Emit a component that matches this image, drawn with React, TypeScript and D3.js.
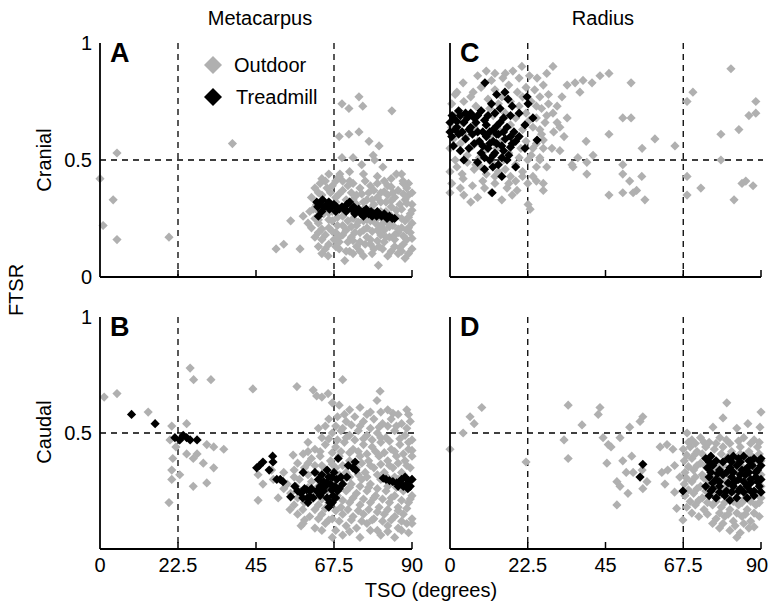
import React from 'react';
import * as d3 from 'd3';

type P = [number, number];

const xTicks = [0, 22.5, 45, 67.5, 90];
const xTickLabels = ['0', '22.5', '45', '67.5', '90'];
const dashX = [22.5, 67.5];
const dashY = 0.5;
const columnTitles = ['Metacarpus', 'Radius'];
const rowTitles = ['Cranial', 'Caudal'];
const legendLabels = ['Outdoor', 'Treadmill'];

// Panel A: Metacarpus, cranial
const metaCranialOutdoor: P[] = [
  [0,0.42],[4.9,0.53],[3.8,0.33],[0.9,0.22],[4.9,0.16],[19.9,0.17],[38.2,0.57],[50.8,0.12],[53,0.14],[57.7,0.12],[55,0.24],[58.6,0.26],[60,0.23],
  [74.7,0.77],[69.8,0.74],[71.8,0.72],[75.8,0.73],[84.2,0.71],[69,0.6],[71.8,0.61],[74.7,0.62],[77.6,0.58],[80.5,0.56],[69.8,0.51],[73,0.51],
  [75.5,0.48],[78.8,0.52],[79.2,0.5],[81.6,0.47],[69.2,0.44],[72,0.41],
  [64,0.42],[66,0.44],[69,0.43],[72,0.45],[76,0.44],[80,0.43],[84,0.42],[87,0.44],[89,0.4],
  [62,0.38],[63.5,0.4],[67,0.39],[70,0.37],[73,0.4],[75,0.38],[78,0.39],[81,0.36],[83,0.39],[86,0.37],[88.5,0.38],
  [61,0.34],[64,0.35],[68,0.34],[71,0.33],[74,0.35],[77,0.33],[80,0.34],[82.5,0.32],[85,0.34],[88,0.33],[90,0.31],
  [61.5,0.29],[65,0.3],[69,0.29],[72,0.3],[76,0.29],[79,0.31],[81,0.28],[84,0.3],[87,0.29],[89.5,0.27],
  [62,0.25],[64.5,0.27],[67,0.24],[70,0.26],[73,0.25],[75.5,0.27],[78,0.24],[80.5,0.26],[83,0.23],[85.5,0.26],[88,0.24],[90,0.23],
  [61,0.21],[63,0.23],[66,0.21],[68.5,0.22],[71,0.2],[74,0.22],[77,0.21],[79.5,0.23],[82,0.2],[84.5,0.22],[87,0.21],[89.5,0.19],
  [62,0.17],[65,0.18],[67.5,0.16],[70,0.18],[72.5,0.17],[75,0.19],[78,0.16],[81,0.18],[83.5,0.17],[86,0.19],[88.5,0.16],
  [63,0.13],[66,0.14],[69,0.12],[71.5,0.15],[74,0.13],[76.5,0.14],[79,0.12],[82,0.15],[85,0.13],[87.5,0.14],[90,0.12],
  [64,0.1],[65.8,0.09],[70.6,0.07],[73,0.1],[76,0.09],[78.5,0.1],[80.3,0.05],[83,0.09],[86,0.1],[88,0.08],
  [66,0.32],[70,0.41],[74,0.31],[77.5,0.36],[79,0.27],[82,0.41],[85,0.18],[86.5,0.31],[73.5,0.19],[69,0.15],[87,0.11],[71,0.28],
  [75,0.15],[80,0.2],[84,0.26],[89,0.35],[65.5,0.38],[62.5,0.31],[67,0.28],[76,0.24],[81.5,0.12],[89,0.21],[78,0.29],[72,0.11],[83,0.35],
  [87.4,0.41],[85.5,0.44],[63,0.19],[68,0.19],[60.5,0.28],
  [65,0.41],[68,0.41],[71.5,0.39],[76.5,0.41],[80,0.4],[84,0.385],[87.5,0.4],
  [63,0.36],[66.5,0.36],[69,0.355],[72.5,0.36],[75.5,0.355],[79,0.37],[82,0.365],[84.5,0.36],[87.5,0.355],[90,0.36],
  [64.5,0.325],[68,0.32],[73,0.33],[76,0.32],[78.5,0.33],[81,0.32],[84,0.325],[88.5,0.315],
  [63,0.28],[66,0.275],[70.5,0.28],[74,0.275],[77,0.28],[82.5,0.28],[85.5,0.285],[90,0.285],
  [63,0.245],[66,0.245],[68.5,0.255],[71.5,0.24],[74.5,0.235],[77,0.245],[79.5,0.245],[82,0.24],[84.5,0.245],[87,0.25],[89,0.255],
  [64,0.205],[67,0.195],[70,0.22],[72.5,0.215],[76,0.2],[78.5,0.195],[81,0.22],[83.5,0.215],[86,0.205],[88.5,0.2],
  [64,0.16],[69,0.17],[73,0.155],[77,0.17],[80,0.155],[82.5,0.17],[85,0.16],[87.5,0.175],[90,0.165],
  [65,0.12],[68,0.13],[71,0.11],[75,0.11],[78,0.14],[80.5,0.13],[84,0.11],[86.5,0.125],[89,0.1]
];
const metaCranialTreadmill: P[] = [
  [62.5,0.32],[62.8,0.3],[63,0.26],[63.5,0.31],[64.2,0.33],[64.8,0.3],[65.5,0.31],[66.2,0.29],[66.8,0.3],[67.5,0.31],[68.2,0.3],
  [69,0.29],[69.8,0.3],[70.5,0.29],[71.2,0.31],[72,0.32],[72.6,0.29],[73.2,0.3],[74,0.28],[74.6,0.29],[75.3,0.27],[76,0.28],
  [76.8,0.29],[77.5,0.27],[78.2,0.28],[79,0.27],[79.8,0.26],[80.5,0.27],[81.2,0.26],[82,0.27],[82.8,0.25],[83.5,0.26],[84.3,0.25],
  [85,0.25],[64,0.28],[66,0.32],[68,0.28],[71,0.28],[73.5,0.27],[76,0.26],[78.5,0.26],[80,0.28]
];

// Panel B: Metacarpus, caudal
const metaCaudalOutdoor: P[] = [
  [1.2,0.655],[4.9,0.67],[13.9,0.59],[26,0.78],[27,0.73],[32,0.73],[44.1,0.69],[20.7,0.53],[20.2,0.47],[21.9,0.44],[25,0.54],
  [30.8,0.45],[32.8,0.44],[35.7,0.43],[25,0.41],[26.9,0.39],[29.8,0.37],[32.8,0.35],[20.7,0.34],[23,0.32],[20.7,0.3],[26.9,0.27],
  [30.8,0.285],[19.9,0.2],[21,0.39],[28,0.41],
  [45.6,0.32],[47,0.28],[50,0.3],[51.4,0.22],[53,0.26],[54.8,0.17],[58.6,0.11],[49.5,0.34],
  [56.8,0.7],[61.5,0.685],[62.5,0.66],[64,0.655],[65.8,0.67],[70,0.73],[80.8,0.68],[79.9,0.64],[75,0.61],[72,0.6],[69,0.62],[78,0.59],
  [83,0.6],[86,0.58],[88.5,0.6],[67,0.63],
  [66,0.56],[68.5,0.57],[71,0.55],[73.5,0.57],[76,0.55],[79,0.56],[81.5,0.54],[84,0.56],[87,0.54],[89.5,0.55],[63,0.52],
  [60,0.46],[64,0.48],[67,0.5],[69.5,0.51],[72,0.49],[74.5,0.51],[77,0.49],[80,0.5],[82.5,0.48],[85,0.51],[88,0.49],[90,0.47],
  [55.7,0.405],[58.6,0.41],[62,0.43],[65,0.45],[68,0.44],[70.5,0.46],[73,0.43],[76,0.45],[78.5,0.44],[81,0.46],[84,0.43],[86.5,0.45],[89,0.43],
  [57,0.37],[61,0.39],[63.5,0.4],[66.5,0.38],[69,0.4],[72,0.38],[75,0.4],[77.5,0.38],[80.5,0.4],[83,0.38],[85.5,0.4],[88,0.38],[90,0.4],
  [53,0.33],[56,0.34],[59,0.35],[62,0.36],[65,0.34],[68,0.35],[71,0.33],[74,0.35],[76.5,0.33],[79,0.35],[82,0.33],[84.5,0.35],[87,0.33],[89.5,0.35],
  [54,0.28],[57.5,0.3],[61,0.29],[64,0.3],[67,0.29],[70,0.3],[72.5,0.28],[75.5,0.3],[78,0.28],[81,0.3],[83.5,0.28],[86,0.3],[88.5,0.27],[90,0.3],
  [55,0.24],[58,0.25],[62,0.24],[65.5,0.25],[68.5,0.23],[71,0.25],[74,0.24],[77,0.25],[79.5,0.23],[82.5,0.25],[85,0.23],[87.5,0.25],[90,0.23],
  [45.6,0.21],[56,0.19],[59,0.2],[63,0.19],[66,0.2],[69.5,0.18],[72,0.2],[75,0.19],[78,0.2],[80.5,0.18],[83.5,0.2],[86,0.18],[89,0.2],
  [57,0.15],[60.5,0.14],[64,0.15],[67,0.13],[70,0.15],[73,0.14],[76,0.15],[79,0.13],[82,0.15],[85,0.14],[87.5,0.15],[90,0.13],
  [58,0.1],[62,0.09],[65,0.11],[68,0.08],[71,0.1],[74,0.09],[77,0.11],[80,0.08],[83,0.1],[86,0.09],[88.5,0.11],
  [67,0.05],[70,0.06],[75,0.05],[81,0.06],[85,0.05],[89,0.07],
  [70.5,0.58],[77,0.58],[81,0.59],[84.5,0.585],[89,0.58],
  [65,0.53],[68,0.53],[70,0.52],[72.5,0.535],[75,0.53],[78,0.52],[80.5,0.525],[83,0.53],[85.5,0.53],[88.5,0.52],
  [66,0.475],[68.5,0.47],[71,0.48],[73.5,0.47],[76,0.475],[78.5,0.47],[81,0.48],[83.5,0.465],[86.5,0.475],[89,0.46],
  [60,0.42],[63.5,0.42],[67,0.415],[69.5,0.42],[72,0.415],[74.5,0.42],[77,0.41],[79.5,0.42],[82,0.415],[85,0.42],[87.5,0.41],[90,0.425],
  [60,0.37],[64,0.36],[67,0.365],[70,0.36],[73,0.365],[75.5,0.37],[78,0.36],[81,0.365],[83.5,0.36],[86,0.37],[88.5,0.36],
  [56,0.31],[60,0.32],[63,0.32],[66,0.315],[69,0.32],[72,0.31],[74.5,0.32],[77,0.31],[80,0.32],[82.5,0.315],[85,0.31],[87.5,0.32],
  [56.5,0.27],[60,0.265],[63,0.27],[66,0.265],[69,0.26],[72,0.265],[75,0.27],[77.5,0.265],[80,0.26],[83,0.27],[85.5,0.265],[88,0.26],
  [57,0.22],[60.5,0.22],[64,0.215],[67,0.22],[70,0.21],[73,0.22],[76,0.215],[79,0.22],[81.5,0.215],[84,0.22],[87,0.21],[89.5,0.215],
  [58.5,0.17],[62,0.17],[65,0.175],[68,0.165],[71.5,0.17],[74.5,0.165],[77.5,0.17],[80,0.16],[83,0.17],[86,0.165],[88.5,0.175],
  [59,0.125],[63,0.13],[66,0.125],[69,0.12],[72.5,0.125],[75.5,0.12],[78.5,0.125],[81.5,0.12],[84,0.125],[87,0.12],[90,0.11],
  [64,0.08],[72,0.075],[78,0.08],[83,0.075],[87,0.08]
];
const metaCaudalTreadmill: P[] = [
  [9.1,0.58],[15.9,0.54],[21.6,0.48],[24,0.49],[26,0.47],[28,0.47],[23,0.47],[25,0.48],
  [45.2,0.35],[46,0.36],[47,0.375],[49.8,0.4],[49.9,0.375],[48.8,0.34],[51,0.3],[52,0.3],[52.8,0.29],[55,0.225],[56.2,0.27],[57,0.25],
  [58,0.24],[58.6,0.33],[59.6,0.255],[60.6,0.225],[59.8,0.22],[61,0.26],[62,0.33],[63,0.3],[64,0.32],[64.5,0.29],[65.4,0.285],[66,0.31],
  [66.8,0.255],[66.3,0.2],[67.2,0.23],[67.8,0.27],[68.3,0.3],[68.7,0.39],[69,0.26],[70,0.28],[71.2,0.31],[71.6,0.36],[73,0.35],
  [73.6,0.375],[73.8,0.34],[65.5,0.34],[63.5,0.27],[62.5,0.25],
  [64.5,0.25],[65.5,0.22],[66.5,0.28],[67.5,0.33],[68.5,0.25],[69.5,0.31],[67,0.31],[65,0.27],[63.5,0.23],[61.5,0.22],[60.5,0.25],
  [58.5,0.22],[59,0.26],[60,0.2],[66,0.18],[67,0.2],[68,0.22],
  [81.7,0.305],[82.5,0.3],[83.5,0.295],[84.5,0.29],[85.6,0.285],[86.5,0.29],[87,0.3],[87.5,0.27],[88,0.31],[88.5,0.28],[89,0.295],
  [89.5,0.27],[90,0.3],[86,0.27],[88.8,0.26]
];

// Panel C: Radius, cranial
const radCranialOutdoor: P[] = [
  [81.3,0.89],[88.5,0.75],[86.5,0.69],[88.5,0.7],[83.6,0.63],[78.4,0.61],[78.4,0.5],[70.3,0.79],[68.6,0.75],[68.6,0.43],[72.6,0.38],
  [68.6,0.35],[82.2,0.33],[84.5,0.4],[87.7,0.39],[85.6,0.41],[52.4,0.83],[46,0.87],[43.4,0.86],[41.1,0.83],[38.5,0.84],[36.2,0.83],
  [33.9,0.82],[50,0.68],[52.4,0.68],[46,0.61],[59.3,0.59],[65.1,0.56],[55.6,0.55],[39.4,0.58],[41.4,0.52],[37,0.51],[35.3,0.48],
  [39.6,0.44],[50,0.48],[50,0.44],[52,0.41],[55.5,0.43],[54,0.37],[53,0.36],[46,0.35],[50,0.36],[56.4,0.33],[27,0.4],[23.2,0.29],
  [31.8,0.64],[33.9,0.68],[31,0.73],[32.4,0.77],[29.8,0.7],[27,0.585],[29.5,0.55],[31.8,0.54],[26,0.51],[28,0.47],[25,0.41],
  [27,0.37],[35.6,0.47],[39.6,0.49],[31,0.66],[30,0.62],[33,0.6],[28.5,0.78],[37.6,0.79],
  [3.8,0.83],[8,0.86],[12,0.84],[15.3,0.85],[18.2,0.88],[20.8,0.9],[23,0.86],[25.2,0.85],[28,0.87],[29.8,0.9],[10.5,0.88],
  [1.5,0.78],[6.7,0.79],[9,0.81],[13,0.8],[17,0.82],[19.5,0.79],[22,0.81],[24.5,0.8],[27,0.82],[26,0.77],
  [0.5,0.74],[4,0.75],[7.5,0.73],[11,0.76],[14,0.74],[17.5,0.75],[20,0.73],[23.5,0.75],[26.5,0.72],[28.5,0.74],
  [2,0.7],[5.5,0.69],[9,0.71],[12.5,0.69],[16,0.7],[19,0.68],[22,0.7],[25,0.68],[27.5,0.66],
  [0.5,0.64],[3.5,0.66],[7,0.64],[10.5,0.65],[14,0.63],[17.5,0.65],[21,0.63],[24,0.64],[26.5,0.61],
  [1,0.59],[4.5,0.6],[8,0.58],[11.5,0.6],[15,0.58],[18.5,0.6],[22,0.58],[25,0.57],[27,0.55],
  [0,0.55],[3,0.54],[6.5,0.56],[10,0.54],[13.5,0.55],[17,0.53],[20.5,0.55],[23.5,0.52],[26,0.5],
  [1.5,0.5],[5,0.49],[8.5,0.51],[12,0.49],[15.5,0.5],[19,0.48],[22.5,0.5],[25,0.47],
  [0,0.45],[3.5,0.44],[7,0.46],[10.5,0.44],[14,0.45],[17.5,0.43],[21,0.45],[24,0.43],
  [0.5,0.4],[3.8,0.42],[6.5,0.39],[9.5,0.41],[13,0.4],[16.5,0.38],[19.4,0.37],[22.5,0.4],
  [0,0.36],[4,0.35],[8,0.34],[12,0.36],[15,0.33],[18,0.35],[22.6,0.31],[6,0.32],
  [2,0.47],[5,0.52],[7.5,0.48],[3,0.57],[9,0.47],[13,0.43],[16,0.46],[19,0.41],[20,0.51],[24,0.55],[26,0.63],[23,0.67],
  [21,0.77],[15,0.77],[11.5,0.72],[6,0.77],[25,0.73],[28,0.69],[3,0.38],[10,0.38],[17,0.4],[21,0.43],[2,0.79],[20,0.85],
  [16,0.87],[13,0.87]
];
const radCranialTreadmill: P[] = [
  [10.1,0.83],[15.9,0.79],[16.8,0.76],[22.3,0.77],[13.5,0.78],
  [12,0.74],[14.5,0.72],[18,0.73],[22.6,0.74],[20,0.7],
  [0.6,0.69],[2.5,0.71],[4.5,0.7],[7,0.68],[9,0.71],[11,0.69],[13,0.7],[15.5,0.68],[17.5,0.69],[24,0.68],
  [0,0.66],[2,0.64],[4,0.66],[6,0.64],[8,0.62],[10.5,0.65],[12.5,0.63],[14.5,0.66],[16.5,0.64],[18.5,0.62],[21.7,0.65],
  [0.5,0.6],[2.5,0.61],[4.5,0.59],[6.5,0.61],[8.5,0.58],[10.5,0.6],[12.5,0.58],[14,0.61],[16,0.59],[18,0.57],[20,0.6],
  [1,0.56],[3,0.54],[5.5,0.55],[9,0.53],[11,0.55],[13,0.53],[15,0.56],[17,0.52],[21.7,0.55],[25.2,0.585],
  [4,0.5],[8,0.49],[11.5,0.5],[14,0.48],[16.5,0.5],[19,0.47],
  [12.4,0.47],[15,0.43],[10,0.46],[12.2,0.36],
  [1,0.68],[3,0.69],[5,0.68],[1.5,0.63],[3.5,0.62],[5.5,0.63],[7.5,0.66],[0,0.62],[2,0.665],[6,0.7],[8,0.69],
  [7,0.57],[9.5,0.56],[11.5,0.57],[13.5,0.57],[15.5,0.54],[17.5,0.555],[9.5,0.62],[11.5,0.62],[13.5,0.61],[15.5,0.62],
  [17.5,0.6],[19,0.58],[10,0.51],[12.5,0.52],[15,0.51],[13.5,0.645],[10,0.67]
];

// Panel D: Radius, caudal
const radCaudalOutdoor: P[] = [
  [0,0.43],[3.8,0.5],[5.8,0.57],[7,0.54],[9.2,0.61],[22,0.375],[34.2,0.62],[33,0.47],[34.2,0.39],[38.2,0.535],[43.4,0.61],[42.9,0.58],
  [44.3,0.48],[45.8,0.45],[46.6,0.44],[45.4,0.37],[49.2,0.48],[52,0.525],[55.8,0.57],[55,0.55],[50,0.38],[52.6,0.4],[51,0.33],[53,0.33],
  [55.6,0.34],[57,0.29],[55.8,0.26],[48.3,0.29],[49.2,0.27],[51.5,0.24],[48.3,0.19],[60.8,0.44],[62.8,0.45],[61.3,0.33],[63,0.34],
  [65,0.36],[65,0.245],[65.6,0.175],[62.2,0.28],[64.5,0.43],[66.5,0.31],[80.1,0.63],[79,0.565],[90,0.59],
  [68.6,0.5],[70,0.47],[72.5,0.48],[75,0.46],[76.1,0.525],[78.1,0.48],[80,0.47],[83,0.52],[85,0.48],[86.2,0.54],[88,0.47],[89.7,0.525],
  [67.5,0.43],[69.5,0.44],[71.5,0.42],[74,0.44],[76.5,0.43],[79,0.44],[81.5,0.42],[84,0.44],[86.5,0.42],[89,0.44],
  [67.8,0.38],[70,0.39],[72.5,0.37],[75,0.39],[77.5,0.37],[80,0.39],[82.5,0.38],[85,0.39],[87.5,0.37],[90,0.38],
  [68,0.33],[70.5,0.34],[73,0.32],[75.5,0.34],[78,0.33],[80.5,0.32],[83,0.34],[85.5,0.32],[88,0.34],[90,0.32],
  [67.8,0.28],[70,0.29],[72.5,0.27],[75,0.29],[77.5,0.28],[80,0.27],[82.5,0.29],[85,0.27],[87.5,0.29],[90,0.27],
  [68,0.23],[70.5,0.24],[73,0.22],[75.5,0.24],[78,0.23],[80.5,0.22],[83,0.24],[85.5,0.22],[88,0.24],[90,0.22],
  [68.5,0.18],[71,0.19],[73.5,0.17],[76,0.19],[78.5,0.18],[81,0.17],[83.5,0.19],[86,0.17],[88.5,0.19],
  [67.4,0.125],[72,0.14],[77,0.13],[79.5,0.14],[82,0.12],[84.5,0.14],[87,0.12],[89.5,0.14],
  [78,0.09],[81,0.08],[84,0.07],[86.5,0.09],[83,0.05],
  [69,0.46],[71,0.455],[73.5,0.46],[77,0.455],[81,0.455],[83.5,0.465],[87,0.455],[89.5,0.46],
  [68.5,0.405],[71,0.41],[73,0.41],[78.5,0.41],[81,0.405],[84,0.41],[87,0.405],[89.5,0.41],
  [69,0.355],[71.5,0.36],[74,0.355],[76.5,0.35],[79,0.36],[82,0.355],[84.5,0.355],[87,0.355],[89.5,0.35],
  [68.5,0.305],[71,0.31],[73.5,0.305],[76.5,0.31],[79,0.3],[81.5,0.305],[84,0.31],[86.5,0.31],[89,0.305],
  [69,0.255],[71.5,0.26],[74,0.25],[76.5,0.255],[79,0.25],[81.5,0.255],[84,0.25],[86.5,0.255],[89,0.25],
  [69.5,0.205],[72,0.21],[74.5,0.2],[77,0.205],[79.5,0.2],[82,0.205],[84.5,0.2],[87,0.205],[89.5,0.2],
  [70,0.155],[74.5,0.15],[78,0.155],[80.5,0.15],[83,0.155],[85.5,0.15],[88,0.155],
  [76,0.11],[79,0.11],[82.5,0.1],[85,0.11],[88,0.095]
];
const radCaudalTreadmill: P[] = [
  [55.8,0.365],[55,0.31],[67.4,0.25],
  [74,0.39],[75.5,0.4],[77,0.38],[80.5,0.39],[82,0.4],[83.5,0.39],[85,0.4],[86.5,0.38],[88,0.39],[89.5,0.38],
  [74.5,0.35],[76,0.36],[78,0.34],[81,0.35],[83,0.36],[84.5,0.34],[86,0.35],[87.5,0.36],[89,0.34],[90,0.36],
  [75,0.31],[77,0.3],[79,0.32],[81.5,0.31],[83.5,0.3],[85.5,0.32],[87,0.3],[88.5,0.31],[90,0.3],
  [74,0.27],[76,0.26],[78,0.27],[80,0.25],[82,0.27],[84,0.26],[86,0.27],[88,0.25],[89.5,0.27],
  [75,0.23],[77,0.22],[79.5,0.23],[81,0.21],[83,0.22],[86,0.22],[88,0.23],
  [75,0.375],[79,0.375],[81.5,0.375],[84,0.375],[87,0.38],[90,0.39],
  [75.5,0.33],[77.5,0.325],[80,0.33],[82,0.33],[84,0.32],[86.5,0.33],[88.5,0.33],
  [76,0.285],[78,0.29],[80.5,0.285],[82.5,0.29],[85,0.29],[87,0.285],[89,0.29],
  [75.5,0.25],[78,0.245],[81.5,0.245],[83.5,0.25],[85,0.245],[87,0.25],[90,0.245]
];

const GRAY = '#b0b0b0';
const FONT = 'Liberation Sans, Arial, Helvetica, sans-serif';

interface PanelSpec {
  letter: string;
  x0: number; x1: number; yTop: number; yBot: number;
  outdoor: P[]; treadmill: P[];
  yLabels: number[];
  xLabels: boolean;
}

const panels: PanelSpec[] = [
  { letter: 'A', x0: 100, x1: 412, yTop: 43, yBot: 277, outdoor: metaCranialOutdoor, treadmill: metaCranialTreadmill, yLabels: [0, 0.5, 1], xLabels: false },
  { letter: 'C', x0: 450, x1: 761, yTop: 43, yBot: 277, outdoor: radCranialOutdoor, treadmill: radCranialTreadmill, yLabels: [], xLabels: false },
  { letter: 'B', x0: 100, x1: 412, yTop: 317, yBot: 549, outdoor: metaCaudalOutdoor, treadmill: metaCaudalTreadmill, yLabels: [0.5, 1], xLabels: true },
  { letter: 'D', x0: 450, x1: 761, yTop: 317, yBot: 549, outdoor: radCaudalOutdoor, treadmill: radCaudalTreadmill, yLabels: [], xLabels: true },
];

const diamond = (r: number) => `M0,${-r}L${r},0L0,${r}L${-r},0Z`;

function Panel({ p }: { p: PanelSpec }) {
  const x = d3.scaleLinear().domain([0, 90]).range([p.x0, p.x1]);
  const y = d3.scaleLinear().domain([0, 1]).range([p.yBot, p.yTop]);
  const d = diamond(4.6);
  return (
    <g>
      {dashX.map((v) => (
        <line key={'dx' + v} x1={x(v)} x2={x(v)} y1={p.yTop} y2={p.yBot} stroke="#000" strokeWidth={1.3} strokeDasharray="6,5" />
      ))}
      <line x1={p.x0} x2={p.x1 + 2} y1={y(dashY)} y2={y(dashY)} stroke="#000" strokeWidth={1.3} strokeDasharray="6,5" />
      {p.outdoor.map((pt, i) => (
        <path key={'o' + i} d={d} transform={`translate(${x(pt[0])},${y(pt[1])})`} fill={GRAY} />
      ))}
      {p.treadmill.map((pt, i) => (
        <path key={'t' + i} d={d} transform={`translate(${x(pt[0])},${y(pt[1])})`} fill="#000" />
      ))}
      <line x1={p.x0} x2={p.x0} y1={p.yTop} y2={p.yBot} stroke="#000" strokeWidth={1.8} />
      <line x1={p.x0} x2={p.x1} y1={p.yBot} y2={p.yBot} stroke="#000" strokeWidth={1.8} />
      {xTicks.slice(1).map((v) => (
        <line key={'t' + v} x1={x(v)} x2={x(v)} y1={p.yBot} y2={p.yBot - 7} stroke="#000" strokeWidth={1.5} />
      ))}
      {p.yLabels.map((v) => (
        <text key={'yl' + v} x={p.x0 - 8} y={y(v)} textAnchor="end" dominantBaseline="central" fontSize={20} fontFamily={FONT}>
          {v === 0.5 ? '0.5' : String(v)}
        </text>
      ))}
      {p.xLabels && xTicks.map((v, i) => (
        <text key={'xl' + v} x={Math.min(x(v), 757)} y={p.yBot + 23} textAnchor="middle" fontSize={20} fontFamily={FONT}>
          {xTickLabels[i]}
        </text>
      ))}
      <text x={p.x0 + 10} y={p.yTop + 19} fontSize={27} fontWeight="bold" fontFamily={FONT}>{p.letter}</text>
    </g>
  );
}

export default function App() {
  return (
    <svg width={771} height={607} style={{ position: 'absolute', left: 0, top: 0, background: '#fff' }} fontFamily={FONT}>
      <rect width={771} height={607} fill="#fff" />
      {panels.map((p) => <Panel key={p.letter} p={p} />)}
      <text x={260} y={25} textAnchor="middle" fontSize={20}>{columnTitles[0]}</text>
      <text x={603} y={25} textAnchor="middle" fontSize={20}>{columnTitles[1]}</text>
      <text transform="translate(51,160) rotate(-90)" textAnchor="middle" fontSize={20}>{rowTitles[0]}</text>
      <text transform="translate(51,432) rotate(-90)" textAnchor="middle" fontSize={20}>{rowTitles[1]}</text>
      <text transform="translate(23,290) rotate(-90)" textAnchor="middle" fontSize={20}>FTSR</text>
      <text x={431} y={597} textAnchor="middle" fontSize={20}>TSO (degrees)</text>
      <path d={diamond(9)} transform="translate(213,65)" fill={GRAY} />
      <text x={234} y={65} dominantBaseline="central" fontSize={20}>{legendLabels[0]}</text>
      <path d={diamond(9)} transform="translate(213,97)" fill="#000" />
      <text x={236} y={97} dominantBaseline="central" fontSize={20}>{legendLabels[1]}</text>
    </svg>
  );
}
